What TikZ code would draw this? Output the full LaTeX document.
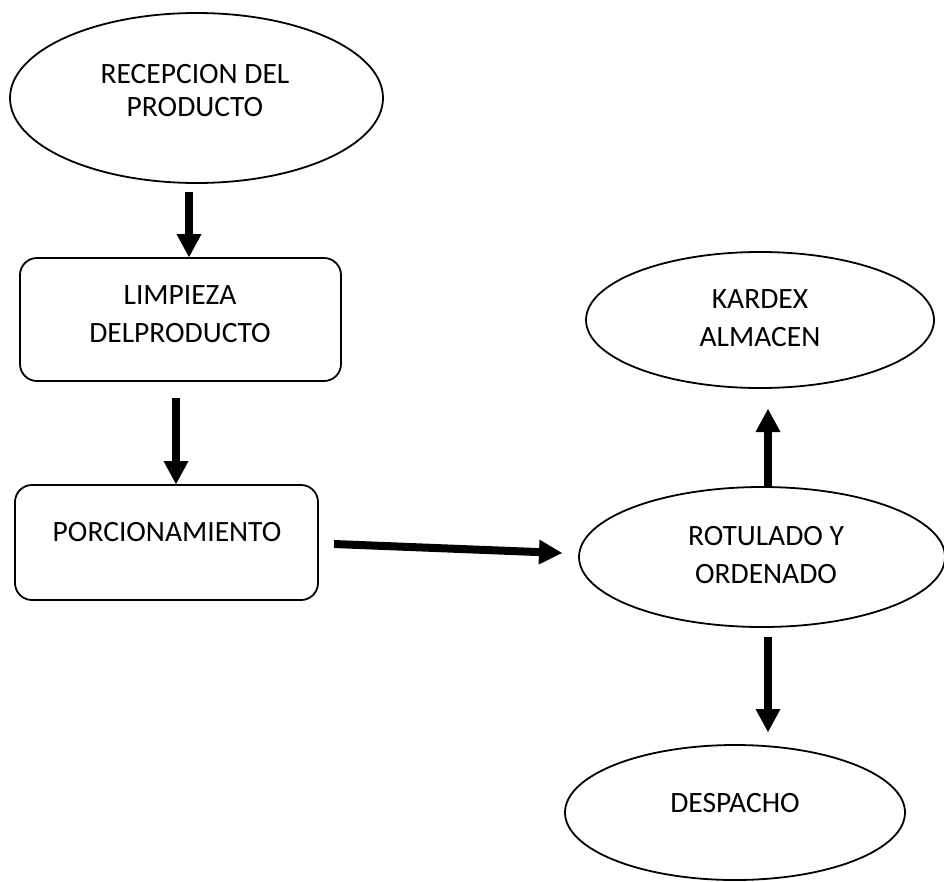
\documentclass[tikz,border=0pt]{standalone}
\usepackage{fontspec}
\setmainfont{Carlito}
\usetikzlibrary{shapes.geometric,arrows.meta}
\tikzset{
  shapeline/.style={draw=black, line width=1.8pt, fill=white, inner sep=0pt},
  oval/.style={shapeline, ellipse},
  box/.style={shapeline, rectangle, rounded corners=17pt},
  lbl/.style={inner sep=0pt, align=center, font=\fontsize{29.5}{38}\selectfont},
  arr/.style={line width=8pt, -{Triangle[width=25pt,length=23pt,line width=0pt]}}
}
\begin{document}
\begin{tikzpicture}[x=1pt,y=-1pt]
\useasboundingbox (0,0) rectangle (944,881);
\fill[white] (0,0) rectangle (944,881);
% shapes
\node[oval, minimum width=373pt, minimum height=170pt] (rec) at (196.5,98) {};
\node[box, minimum width=321pt, minimum height=123pt] (limp) at (180.5,319.5) {};
\node[box, minimum width=303pt, minimum height=115pt] (porc) at (166.5,542.5) {};
\node[oval, minimum width=348pt, minimum height=136pt] (kard) at (760,320) {};
\node[oval, minimum width=366pt, minimum height=140pt] (rot) at (762,557) {};
\node[oval, minimum width=340pt, minimum height=135pt] (desp) at (735,812.5) {};
% texts
\node[lbl, font=\fontsize{29.5}{33}\selectfont] (recT) at (195,91) {RECEPCION DEL\\PRODUCTO};
\node[lbl] (limpT) at (180,314.5) {LIMPIEZA\\DELPRODUCTO};
\node[lbl] (porcT) at (167,532) {PORCIONAMIENTO};
\node[lbl] (kardT) at (760,318.5) {KARDEX\\ALMACEN};
\node[lbl] (rotT) at (766,555) {ROTULADO Y\\ORDENADO};
\node[lbl] (despT) at (735,803) {DESPACHO};
% connector ends
\coordinate (a1s) at (189,192);
\coordinate (a2s) at (176,398);
\coordinate (a3s) at (334,544);
\coordinate (a3e) at (562,553);
\coordinate (a4s) at (768,487);
\coordinate (a4e) at (768,409);
\coordinate (a5s) at (768,637);
\coordinate (a5e) at (768,732);
% connectors
\draw[arr] (a1s) -- (a1s |- limp.north);
\draw[arr] (a2s) -- (a2s |- porc.north);
\draw[arr] (a3s) -- (a3e);
\draw[arr] (a4s) -- (a4e);
\draw[arr] (a5s) -- (a5e);
\end{tikzpicture}
\end{document}
